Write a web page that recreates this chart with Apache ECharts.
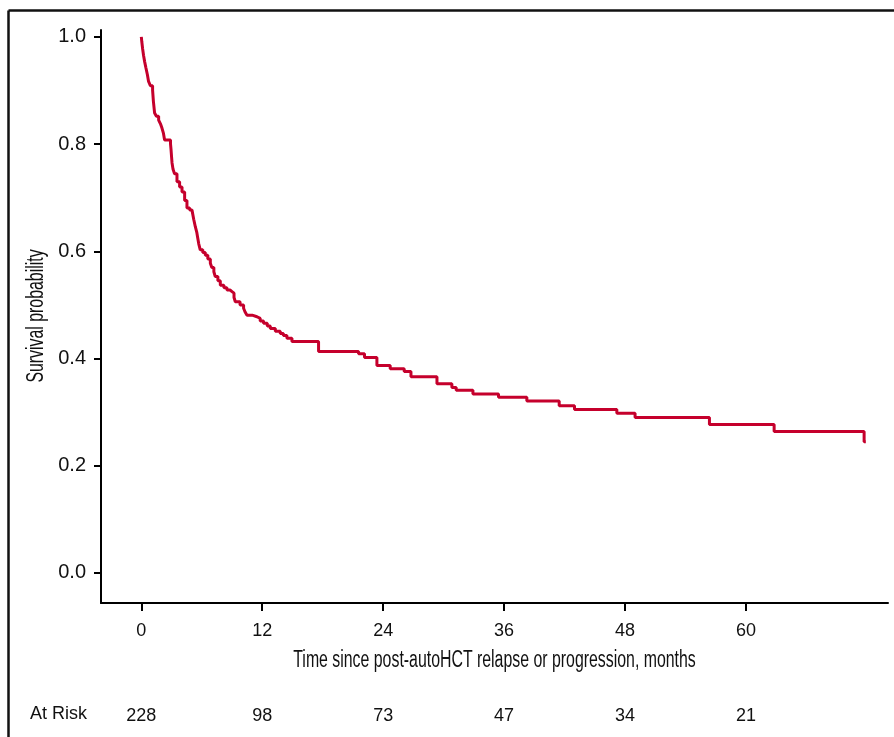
<!DOCTYPE html>
<html>
<head>
<meta charset="utf-8">
<script src="https://cdn.jsdelivr.net/npm/echarts@6/dist/echarts.min.js"></script>
<style>
html,body{margin:0;padding:0;background:#fff;}
#chart{width:894px;height:737px;}
</style>
</head>
<body>
<div id="chart"></div>
<script>
// Kaplan-Meier step data (months, survival probability)
var times = [0,0.05,0.13,0.22,0.33,0.45,0.6,0.72,0.9,1.12,1.2,1.32,1.5,1.72,1.9,2.05,2.2,2.31,2.9,2.95,3.0,3.05,3.15,3.3,3.54,3.8,4.04,4.3,4.53,4.8,5.03,5.2,5.36,5.5,5.6,5.7,5.85,6.1,6.35,6.6,6.85,7.0,7.2,7.34,7.6,7.84,8.2,8.5,8.8,9.0,9.2,9.33,9.8,10.15,10.3,10.49,11.0,11.48,11.8,12.13,12.5,12.8,13.3,13.79,14.1,14.45,14.95,17.59,21.56,22.15,23.38,24.70,26.09,26.76,29.34,30.82,31.25,32.91,35.45,38.26,41.47,42.99,47.19,49.0,56.38,62.80,71.73,71.9];
var surv = [1.0,0.991,0.978,0.966,0.954,0.943,0.93,0.917,0.909,0.901,0.88,0.858,0.852,0.845,0.838,0.830,0.82,0.808,0.80,0.79,0.777,0.765,0.753,0.745,0.730,0.72,0.711,0.695,0.681,0.677,0.674,0.66,0.646,0.636,0.625,0.614,0.603,0.598,0.593,0.586,0.578,0.570,0.562,0.553,0.545,0.537,0.532,0.528,0.525,0.522,0.514,0.506,0.50,0.494,0.487,0.481,0.478,0.475,0.47,0.466,0.461,0.456,0.451,0.447,0.443,0.438,0.432,0.413,0.409,0.402,0.387,0.381,0.376,0.366,0.353,0.346,0.341,0.334,0.328,0.321,0.312,0.305,0.298,0.290,0.277,0.264,0.245,0.245];
var xTicks = [0, 12, 24, 36, 48, 60];
var yTicks = [0, 0.2, 0.4, 0.6, 0.8, 1.0];
var atRisk = [228, 98, 73, 47, 34, 21];
var xTitle = 'Time since post-autoHCT relapse or progression, months';
var yTitle = 'Survival probability';
var atRiskTitle = 'At Risk';

var seriesData = times.map(function (t, i) { return [t, surv[i]]; });

var plainFont = "'Liberation Sans', Arial, Helvetica, sans-serif";

var chart = echarts.init(document.getElementById('chart'), null, {renderer: 'canvas'});
chart.setOption({
  animation: false,
  backgroundColor: '#ffffff',
  grid: {left: 101, right: 6, top: 30, bottom: 134, containLabel: false},
  xAxis: [{
    type: 'value',
    min: -4, max: 74.1,
    axisLine: {show: true, onZero: false, lineStyle: {color: '#000', width: 2}},
    axisTick: {show: true, length: 8, customValues: xTicks, lineStyle: {color: '#000', width: 2}},
    axisLabel: {customValues: xTicks, margin: 19, color: '#111', fontSize: 18, fontFamily: plainFont},
    splitLine: {show: false}
  }, {
    type: 'value',
    position: 'bottom',
    offset: 96,
    min: -4, max: 74.1,
    axisLine: {show: false},
    axisTick: {show: false},
    splitLine: {show: false},
    axisLabel: {
      customValues: xTicks, margin: 8, color: '#111', fontSize: 18, fontFamily: plainFont,
      formatter: function (v) { var i = xTicks.indexOf(v); return i >= 0 ? String(atRisk[i]) : ''; }
    }
  }],
  yAxis: {
    type: 'value',
    min: -0.056, max: 1.013,
    axisLine: {show: true, onZero: false, lineStyle: {color: '#000', width: 2}},
    axisTick: {show: true, length: 7, customValues: yTicks, lineStyle: {color: '#000', width: 2}},
    axisLabel: {customValues: yTicks, margin: 15, color: '#111', fontSize: 20, fontFamily: plainFont,
      formatter: function (v) { return v.toFixed(1); }},
    splitLine: {show: false}
  },
  graphic: [
    {type: 'line', shape: {x1: 8.5, y1: 10.5, x2: 894, y2: 10.5}, style: {stroke: '#111', lineWidth: 2.5}},
    {type: 'line', shape: {x1: 8.5, y1: 10.5, x2: 8.5, y2: 737}, style: {stroke: '#111', lineWidth: 2.5}},
    {type: 'text', x: 494.5, y: 661, scaleX: 0.69,
      style: {text: xTitle, fill: '#111', fontSize: 23, fontFamily: plainFont, textAlign: 'center', textVerticalAlign: 'middle'}},
    {type: 'text', x: 37, y: 316, rotation: Math.PI / 2, scaleX: 0.69,
      style: {text: yTitle, fill: '#111', fontSize: 23, fontFamily: plainFont, textAlign: 'center', textVerticalAlign: 'middle'}},
    {type: 'text', left: 30, top: 705, style: {text: atRiskTitle, fill: '#111', fontSize: 18, fontFamily: plainFont}}
  ],
  series: [{
    type: 'line',
    xAxisIndex: 0,
    step: 'end',
    showSymbol: false,
    symbol: 'none',
    data: seriesData,
    lineStyle: {color: '#c5002c', width: 3},
    itemStyle: {color: '#c5002c'}
  }]
});
</script>
</body>
</html>
